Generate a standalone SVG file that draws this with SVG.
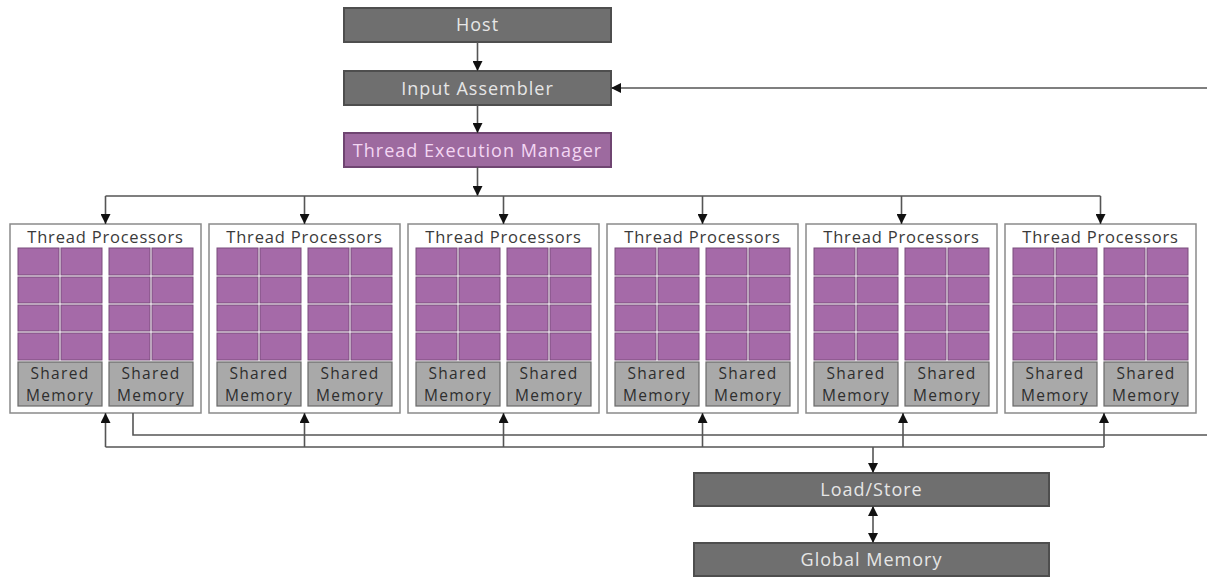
<svg xmlns="http://www.w3.org/2000/svg" width="1212" height="581" viewBox="0 0 1212 581">
  <style>
    .dark { fill: #6f6f6f; stroke: #4e4e4e; stroke-width: 2; }
    .tem { fill: #9d6a9f; stroke: #6f4571; stroke-width: 2; }
    .lbl { font-family: "Open Sans", "Noto Sans", sans-serif; font-size: 18px; letter-spacing: 1px; fill: #e6e6e6; text-anchor: middle; }
    .tlbl { font-family: "Open Sans", "Noto Sans", sans-serif; font-size: 18px; letter-spacing: 1px; fill: #f3d6f3; text-anchor: middle; }
    .tp { fill: #ffffff; stroke: #8a8a8a; stroke-width: 1.5; }
    .tph { font-family: "Open Sans", "Noto Sans", sans-serif; font-size: 16.5px; letter-spacing: 0.8px; fill: #3a3a3a; text-anchor: middle; }
    .cell { fill: #a56aa8; stroke: #7a4c7d; stroke-width: 1; }
    .sm { fill: #a9a9a9; stroke: #6a6a6a; stroke-width: 1.2; }
    .smt { font-family: "Open Sans", "Noto Sans", sans-serif; font-size: 15.5px; letter-spacing: 1.3px; fill: #2e2e2e; text-anchor: middle; }
    .wire { fill: none; stroke: #555555; stroke-width: 1.6; }
  </style>
  <defs>
    <marker id="arr" viewBox="0 0 10 10" refX="10" refY="5" markerWidth="10" markerHeight="10" markerUnits="userSpaceOnUse" orient="auto-start-reverse">
      <path d="M0,0 L10,5 L0,10 Z" fill="#111"/>
    </marker>
  </defs>

  <rect width="1212" height="581" fill="#ffffff"/>

  <!-- top pipeline -->
  <g id="host">
    <rect class="dark" x="344" y="8" width="267" height="34"/>
    <text class="lbl" x="477.5" y="31">Host</text>
  </g>
  <g id="input-assembler">
    <rect class="dark" x="344" y="71" width="267" height="34"/>
    <text class="lbl" x="477.5" y="95">Input Assembler</text>
  </g>
  <g id="thread-execution-manager">
    <rect class="tem" x="344" y="133" width="267" height="34"/>
    <text class="tlbl" x="477.5" y="157">Thread Execution Manager</text>
  </g>

  <!-- thread processor clusters -->
  <g id="tp1" transform="translate(10,0)">
    <rect class="tp" x="0" y="224" width="191" height="189"/>
    <text class="tph" x="95.5" y="243">Thread Processors</text>
    <rect class="cell" x="8" y="248" width="41" height="27"/><rect class="cell" x="51" y="248" width="41" height="27"/><rect class="cell" x="99" y="248" width="41" height="27"/><rect class="cell" x="142" y="248" width="41" height="27"/>
    <rect class="cell" x="8" y="277" width="41" height="26"/><rect class="cell" x="51" y="277" width="41" height="26"/><rect class="cell" x="99" y="277" width="41" height="26"/><rect class="cell" x="142" y="277" width="41" height="26"/>
    <rect class="cell" x="8" y="305" width="41" height="26"/><rect class="cell" x="51" y="305" width="41" height="26"/><rect class="cell" x="99" y="305" width="41" height="26"/><rect class="cell" x="142" y="305" width="41" height="26"/>
    <rect class="cell" x="8" y="333" width="41" height="27"/><rect class="cell" x="51" y="333" width="41" height="27"/><rect class="cell" x="99" y="333" width="41" height="27"/><rect class="cell" x="142" y="333" width="41" height="27"/>
    <rect class="sm" x="8" y="362" width="84" height="44"/><rect class="sm" x="99" y="362" width="84" height="44"/>
    <text class="smt" x="50" y="379">Shared</text><text class="smt" x="50" y="400.5">Memory</text>
    <text class="smt" x="141" y="379">Shared</text><text class="smt" x="141" y="400.5">Memory</text>
  </g>
  <g id="tp2" transform="translate(209,0)">
    <rect class="tp" x="0" y="224" width="191" height="189"/>
    <text class="tph" x="95.5" y="243">Thread Processors</text>
    <rect class="cell" x="8" y="248" width="41" height="27"/><rect class="cell" x="51" y="248" width="41" height="27"/><rect class="cell" x="99" y="248" width="41" height="27"/><rect class="cell" x="142" y="248" width="41" height="27"/>
    <rect class="cell" x="8" y="277" width="41" height="26"/><rect class="cell" x="51" y="277" width="41" height="26"/><rect class="cell" x="99" y="277" width="41" height="26"/><rect class="cell" x="142" y="277" width="41" height="26"/>
    <rect class="cell" x="8" y="305" width="41" height="26"/><rect class="cell" x="51" y="305" width="41" height="26"/><rect class="cell" x="99" y="305" width="41" height="26"/><rect class="cell" x="142" y="305" width="41" height="26"/>
    <rect class="cell" x="8" y="333" width="41" height="27"/><rect class="cell" x="51" y="333" width="41" height="27"/><rect class="cell" x="99" y="333" width="41" height="27"/><rect class="cell" x="142" y="333" width="41" height="27"/>
    <rect class="sm" x="8" y="362" width="84" height="44"/><rect class="sm" x="99" y="362" width="84" height="44"/>
    <text class="smt" x="50" y="379">Shared</text><text class="smt" x="50" y="400.5">Memory</text>
    <text class="smt" x="141" y="379">Shared</text><text class="smt" x="141" y="400.5">Memory</text>
  </g>
  <g id="tp3" transform="translate(408,0)">
    <rect class="tp" x="0" y="224" width="191" height="189"/>
    <text class="tph" x="95.5" y="243">Thread Processors</text>
    <rect class="cell" x="8" y="248" width="41" height="27"/><rect class="cell" x="51" y="248" width="41" height="27"/><rect class="cell" x="99" y="248" width="41" height="27"/><rect class="cell" x="142" y="248" width="41" height="27"/>
    <rect class="cell" x="8" y="277" width="41" height="26"/><rect class="cell" x="51" y="277" width="41" height="26"/><rect class="cell" x="99" y="277" width="41" height="26"/><rect class="cell" x="142" y="277" width="41" height="26"/>
    <rect class="cell" x="8" y="305" width="41" height="26"/><rect class="cell" x="51" y="305" width="41" height="26"/><rect class="cell" x="99" y="305" width="41" height="26"/><rect class="cell" x="142" y="305" width="41" height="26"/>
    <rect class="cell" x="8" y="333" width="41" height="27"/><rect class="cell" x="51" y="333" width="41" height="27"/><rect class="cell" x="99" y="333" width="41" height="27"/><rect class="cell" x="142" y="333" width="41" height="27"/>
    <rect class="sm" x="8" y="362" width="84" height="44"/><rect class="sm" x="99" y="362" width="84" height="44"/>
    <text class="smt" x="50" y="379">Shared</text><text class="smt" x="50" y="400.5">Memory</text>
    <text class="smt" x="141" y="379">Shared</text><text class="smt" x="141" y="400.5">Memory</text>
  </g>
  <g id="tp4" transform="translate(607,0)">
    <rect class="tp" x="0" y="224" width="191" height="189"/>
    <text class="tph" x="95.5" y="243">Thread Processors</text>
    <rect class="cell" x="8" y="248" width="41" height="27"/><rect class="cell" x="51" y="248" width="41" height="27"/><rect class="cell" x="99" y="248" width="41" height="27"/><rect class="cell" x="142" y="248" width="41" height="27"/>
    <rect class="cell" x="8" y="277" width="41" height="26"/><rect class="cell" x="51" y="277" width="41" height="26"/><rect class="cell" x="99" y="277" width="41" height="26"/><rect class="cell" x="142" y="277" width="41" height="26"/>
    <rect class="cell" x="8" y="305" width="41" height="26"/><rect class="cell" x="51" y="305" width="41" height="26"/><rect class="cell" x="99" y="305" width="41" height="26"/><rect class="cell" x="142" y="305" width="41" height="26"/>
    <rect class="cell" x="8" y="333" width="41" height="27"/><rect class="cell" x="51" y="333" width="41" height="27"/><rect class="cell" x="99" y="333" width="41" height="27"/><rect class="cell" x="142" y="333" width="41" height="27"/>
    <rect class="sm" x="8" y="362" width="84" height="44"/><rect class="sm" x="99" y="362" width="84" height="44"/>
    <text class="smt" x="50" y="379">Shared</text><text class="smt" x="50" y="400.5">Memory</text>
    <text class="smt" x="141" y="379">Shared</text><text class="smt" x="141" y="400.5">Memory</text>
  </g>
  <g id="tp5" transform="translate(806,0)">
    <rect class="tp" x="0" y="224" width="191" height="189"/>
    <text class="tph" x="95.5" y="243">Thread Processors</text>
    <rect class="cell" x="8" y="248" width="41" height="27"/><rect class="cell" x="51" y="248" width="41" height="27"/><rect class="cell" x="99" y="248" width="41" height="27"/><rect class="cell" x="142" y="248" width="41" height="27"/>
    <rect class="cell" x="8" y="277" width="41" height="26"/><rect class="cell" x="51" y="277" width="41" height="26"/><rect class="cell" x="99" y="277" width="41" height="26"/><rect class="cell" x="142" y="277" width="41" height="26"/>
    <rect class="cell" x="8" y="305" width="41" height="26"/><rect class="cell" x="51" y="305" width="41" height="26"/><rect class="cell" x="99" y="305" width="41" height="26"/><rect class="cell" x="142" y="305" width="41" height="26"/>
    <rect class="cell" x="8" y="333" width="41" height="27"/><rect class="cell" x="51" y="333" width="41" height="27"/><rect class="cell" x="99" y="333" width="41" height="27"/><rect class="cell" x="142" y="333" width="41" height="27"/>
    <rect class="sm" x="8" y="362" width="84" height="44"/><rect class="sm" x="99" y="362" width="84" height="44"/>
    <text class="smt" x="50" y="379">Shared</text><text class="smt" x="50" y="400.5">Memory</text>
    <text class="smt" x="141" y="379">Shared</text><text class="smt" x="141" y="400.5">Memory</text>
  </g>
  <g id="tp6" transform="translate(1005,0)">
    <rect class="tp" x="0" y="224" width="191" height="189"/>
    <text class="tph" x="95.5" y="243">Thread Processors</text>
    <rect class="cell" x="8" y="248" width="41" height="27"/><rect class="cell" x="51" y="248" width="41" height="27"/><rect class="cell" x="99" y="248" width="41" height="27"/><rect class="cell" x="142" y="248" width="41" height="27"/>
    <rect class="cell" x="8" y="277" width="41" height="26"/><rect class="cell" x="51" y="277" width="41" height="26"/><rect class="cell" x="99" y="277" width="41" height="26"/><rect class="cell" x="142" y="277" width="41" height="26"/>
    <rect class="cell" x="8" y="305" width="41" height="26"/><rect class="cell" x="51" y="305" width="41" height="26"/><rect class="cell" x="99" y="305" width="41" height="26"/><rect class="cell" x="142" y="305" width="41" height="26"/>
    <rect class="cell" x="8" y="333" width="41" height="27"/><rect class="cell" x="51" y="333" width="41" height="27"/><rect class="cell" x="99" y="333" width="41" height="27"/><rect class="cell" x="142" y="333" width="41" height="27"/>
    <rect class="sm" x="8" y="362" width="84" height="44"/><rect class="sm" x="99" y="362" width="84" height="44"/>
    <text class="smt" x="50" y="379">Shared</text><text class="smt" x="50" y="400.5">Memory</text>
    <text class="smt" x="141" y="379">Shared</text><text class="smt" x="141" y="400.5">Memory</text>
  </g>

  <!-- memory path -->
  <g id="load-store">
    <rect class="dark" x="694" y="473" width="355" height="33"/>
    <text class="lbl" x="871.5" y="496">Load/Store</text>
  </g>
  <g id="global-memory">
    <rect class="dark" x="694" y="543" width="355" height="33"/>
    <text class="lbl" x="871.5" y="566">Global Memory</text>
  </g>

  <!-- connectors -->
  <g id="connectors">
    <line class="wire" x1="477.5" y1="42" x2="477.5" y2="71" marker-end="url(#arr)"/>
    <line class="wire" x1="477.5" y1="105" x2="477.5" y2="133" marker-end="url(#arr)"/>
    <line class="wire" x1="1207" y1="88" x2="611" y2="88" marker-end="url(#arr)"/>
    <line class="wire" x1="477.5" y1="167" x2="477.5" y2="196" marker-end="url(#arr)"/>
    <!-- distribution bus -->
    <line class="wire" x1="105.5" y1="196" x2="1100.5" y2="196"/>
    <line class="wire" x1="105.5" y1="196" x2="105.5" y2="224" marker-end="url(#arr)"/>
    <line class="wire" x1="304.5" y1="196" x2="304.5" y2="224" marker-end="url(#arr)"/>
    <line class="wire" x1="503.5" y1="196" x2="503.5" y2="224" marker-end="url(#arr)"/>
    <line class="wire" x1="702.5" y1="196" x2="702.5" y2="224" marker-end="url(#arr)"/>
    <line class="wire" x1="901.5" y1="196" x2="901.5" y2="224" marker-end="url(#arr)"/>
    <line class="wire" x1="1100.5" y1="196" x2="1100.5" y2="224" marker-end="url(#arr)"/>
    <!-- feedback bus -->
    <polyline class="wire" points="133,413 133,435 1207,435"/>
    <!-- return bus -->
    <line class="wire" x1="105.5" y1="447" x2="1104" y2="447"/>
    <line class="wire" x1="105.5" y1="447" x2="105.5" y2="413" marker-end="url(#arr)"/>
    <line class="wire" x1="304.5" y1="447" x2="304.5" y2="413" marker-end="url(#arr)"/>
    <line class="wire" x1="503.5" y1="447" x2="503.5" y2="413" marker-end="url(#arr)"/>
    <line class="wire" x1="702.5" y1="447" x2="702.5" y2="413" marker-end="url(#arr)"/>
    <line class="wire" x1="903" y1="447" x2="903" y2="413" marker-end="url(#arr)"/>
    <line class="wire" x1="1104" y1="447" x2="1104" y2="413" marker-end="url(#arr)"/>
    <line class="wire" x1="873" y1="447" x2="873" y2="473" marker-end="url(#arr)"/>
    <line class="wire" x1="873" y1="506" x2="873" y2="543" marker-start="url(#arr)" marker-end="url(#arr)"/>
  </g>
</svg>
